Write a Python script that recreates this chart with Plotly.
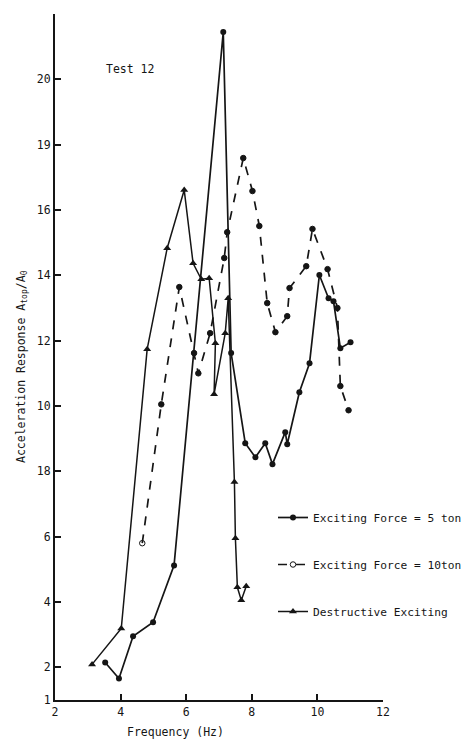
import plotly.graph_objects as go

# Exciting Force = 5 ton (solid, filled circles)
f5_x = [3.53, 3.95, 4.38, 4.99, 5.63, 7.13, 7.37, 7.80, 8.11, 8.41, 8.63, 9.02, 9.08,
        9.45, 9.76, 10.06, 10.34, 10.49, 10.70, 11.01]
f5_y = [2.15, 1.66, 2.95, 3.38, 5.12, 21.45, 11.62, 8.86, 8.43, 8.86, 8.22, 9.20, 8.83,
        10.42, 11.31, 14.01, 13.30, 13.21, 11.77, 11.95]

# Exciting Force = 10 ton (dashed, circles)
f10_x = [4.66, 5.24, 5.79, 6.24, 6.37, 6.73, 7.16, 7.25, 7.74, 8.02, 8.23, 8.47, 8.72,
         9.08, 9.15, 9.66, 9.85, 10.31, 10.61, 10.70, 10.95]
f10_y = [5.80, 10.05, 13.64, 11.62, 11.00, 12.23, 14.53, 15.32, 17.59, 16.58, 15.51, 13.15,
         12.26, 12.75, 13.61, 14.28, 15.42, 14.19, 13.00, 10.61, 9.87]

# Destructive Exciting (solid, triangles)
de_x = [3.13, 4.02, 4.81, 5.42, 5.94, 6.21, 6.46, 6.70, 6.89, 6.85, 7.19, 7.28, 7.47,
        7.50, 7.56, 7.68, 7.83]
de_y = [2.09, 3.19, 11.74, 14.83, 16.61, 14.37, 13.88, 13.91, 11.92, 10.36, 12.23, 13.30,
        7.67, 5.95, 4.45, 4.05, 4.48]

y_tickvals = [1, 2, 4, 6, 8, 10, 12, 14, 16, 18, 20, 22]
y_ticktext = ["1", "2", "4", "6", "18", "10", "12", "14", "16", "19", "20", "22"]
x_tickvals = [2, 4, 6, 8, 10, 12]
x_ticktext = ["2", "4", "6", "8", "10", "12"]

FONT = "DejaVu Sans Mono"
INK = "#151515"

WIN_W, WIN_H = 473, 750
OFF = 8  # page body margin
W, H = WIN_W - 2 * OFF, WIN_H - 2 * OFF
# desired plot area in window pixels
PL, PR, PT, PB = 55, 383, 14, 700
ml, mr, mt = PL - OFF, W - (PR - OFF), PT - OFF
mb = H - (PB - OFF)


def px_x(px):
    return (px - PL) / (PR - PL)


def px_y(py):
    return (PB - py) / (PB - PT)


fig = go.Figure()
fig.add_trace(go.Scatter(
    x=f5_x, y=f5_y, mode="lines+markers", name="Exciting Force = 5 ton",
    legendgroup="a",
    line=dict(color=INK, width=1.7),
    marker=dict(symbol="circle", size=6, color=INK)))
f10_symbols = ["circle-open"] + ["circle"] * (len(f10_x) - 1)
fig.add_trace(go.Scatter(
    x=f10_x, y=f10_y, mode="lines+markers", name="Exciting Force = 10ton",
    legendgroup="b",
    line=dict(color=INK, width=1.7, dash="dash"),
    marker=dict(symbol=f10_symbols, size=5.5, color=INK, line=dict(color=INK, width=1))))
fig.add_trace(go.Scatter(
    x=de_x, y=de_y, mode="lines+markers", name="Destructive Exciting",
    legendgroup="c",
    line=dict(color=INK, width=1.5),
    marker=dict(symbol="triangle-up", size=7, color=INK)))

fig.update_layout(
    width=W, height=H,
    margin=dict(l=ml, r=mr, t=mt, b=mb, autoexpand=False),
    paper_bgcolor="white", plot_bgcolor="white",
    font=dict(family=FONT, size=11.5, color=INK),
    showlegend=True,
    legend=dict(x=px_x(273), y=px_y(503), xanchor="left", yanchor="top",
                bgcolor="rgba(0,0,0,0)", tracegroupgap=28,
                traceorder="grouped", itemwidth=30,
                font=dict(family=FONT, size=11.2, color=INK)),
    xaxis=dict(range=[2, 12], tickvals=x_tickvals, ticktext=x_ticktext,
               showline=True, linecolor=INK, linewidth=2, mirror=False,
               ticks="inside", ticklen=6, tickcolor=INK, tickwidth=2,
               showgrid=False, zeroline=False, automargin=False,
               tickfont=dict(family=FONT, size=11.5, color=INK)),
    yaxis=dict(range=[1, 22], tickvals=y_tickvals, ticktext=y_ticktext,
               showline=True, linecolor=INK, linewidth=2, mirror=False,
               ticks="inside", ticklen=6, tickcolor=INK, tickwidth=2,
               showgrid=False, zeroline=False, automargin=False,
               tickfont=dict(family=FONT, size=11.5, color=INK)),
    annotations=[
        dict(text="Test 12", xref="paper", yref="paper",
             x=px_x(104), y=px_y(69), xanchor="left", yanchor="middle",
             showarrow=False, font=dict(family=FONT, size=11.5, color=INK)),
        dict(text="Frequency (Hz)", xref="paper", yref="paper",
             x=px_x(175), y=px_y(732), xanchor="center", yanchor="middle",
             showarrow=False, font=dict(family=FONT, size=11.5, color=INK)),
        dict(text="Acceleration Response A<sub>top</sub>/A<sub>0</sub>", xref="paper", yref="paper",
             x=px_x(21), y=px_y(367), xanchor="center", yanchor="middle",
             textangle=-90, showarrow=False, font=dict(family=FONT, size=11.5, color=INK)),
    ],
)

fig.write_html("out.html")
